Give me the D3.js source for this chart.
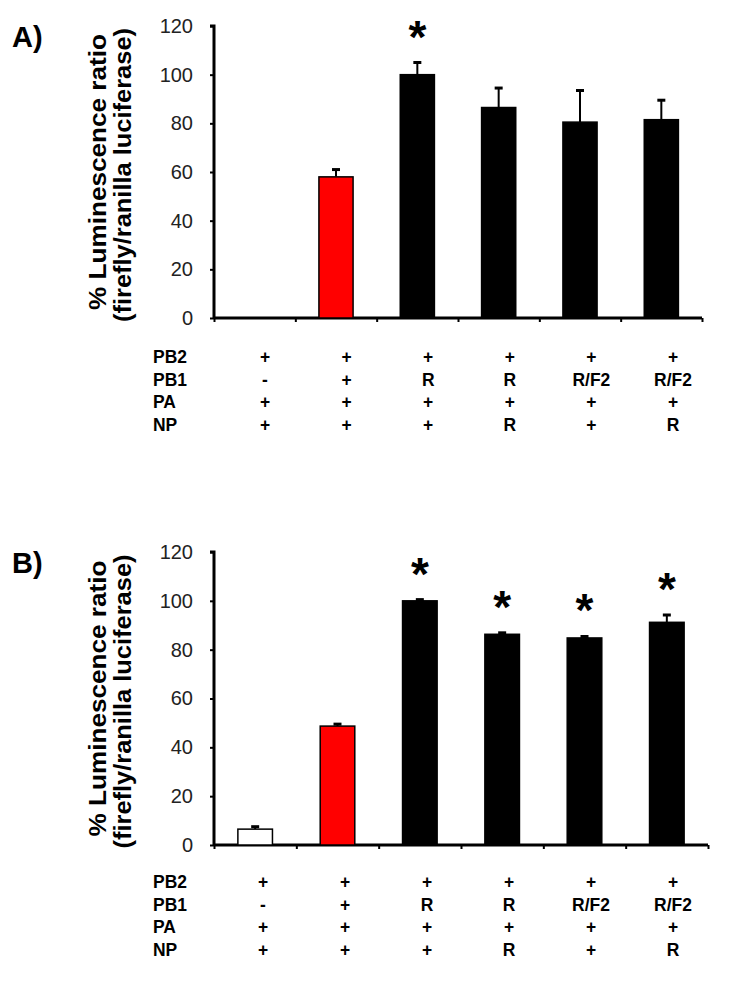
<!DOCTYPE html>
<html>
<head>
<meta charset="utf-8">
<script src="https://cdn.jsdelivr.net/npm/d3@7"></script>
<style>
  html, body { margin: 0; padding: 0; background: #fff; }
  svg { display: block; }
</style>
</head>
<body>
<svg id="chart" width="750" height="1006"></svg>
<script>
// ---- data ----
const categories = ["c1", "c2", "c3", "c4", "c5", "c6"];
const barColors = ["#ffffff", "#ff0000", "#000000", "#000000", "#000000", "#000000"];

const valuesA = [0, 58, 100, 86.5, 80.5, 81.5];
const errorsA = [0, 3, 5, 8, 13, 8];
const starsA = [false, false, true, false, false, false];

const valuesB = [6.5, 48.7, 100, 86.3, 84.8, 91.2];
const errorsB = [1, 0.8, 0.5, 0.6, 0.6, 3];
const starsB = [false, false, true, true, true, true];

const yTicks = [0, 20, 40, 60, 80, 100, 120];
const yLabelLine1 = "% Luminescence ratio";
const yLabelLine2 = "(firefly/ranilla luciferase)";

const rowLabels = ["PB2", "PB1", "PA", "NP"];
const rowPB2 = ["+", "+", "+", "+", "+", "+"];
const rowPB1 = ["-", "+", "R", "R", "R/F2", "R/F2"];
const rowPA = ["+", "+", "+", "+", "+", "+"];
const rowNP = ["+", "+", "+", "R", "+", "R"];
const tableRows = [rowPB2, rowPB1, rowPA, rowNP];

const svg = d3.select("#chart");

function drawPanel(opts) {
  const g = svg.append("g");
  const x = d3.scaleBand().domain(categories).range([opts.x0, opts.x1]).paddingInner(0.58).paddingOuter(0.29);
  const y = d3.scaleLinear().domain([0, 120]).range([opts.yBottom, opts.yTop]);

  // panel letter
  g.append("text").attr("x", 12).attr("y", opts.yTop + 21)
    .attr("font-family", "Liberation Sans, Arial, sans-serif")
    .attr("font-weight", "bold").attr("font-size", 29).text(opts.letter);

  // y axis
  const yAxis = d3.axisLeft(y).tickValues(yTicks).tickSize(4).tickPadding(17).tickFormat(d3.format("d"));
  const ya = g.append("g").attr("transform", `translate(${opts.x0},0)`).call(yAxis);
  ya.select(".domain").attr("stroke-width", 3).attr("d", `M-4,${opts.yTop}H0V${opts.yBottom}`);
  ya.selectAll(".tick line").attr("stroke-width", 2);
  ya.selectAll(".tick text").attr("font-family", "Liberation Sans, Arial, sans-serif")
    .attr("font-size", 20).attr("fill", "#222");

  // x axis (ticks at band boundaries)
  const xLin = d3.scaleLinear().domain([0, categories.length]).range([opts.x0, opts.x1]);
  const xAxis = d3.axisBottom(xLin).tickValues(d3.range(0, categories.length + 1)).tickSize(4).tickFormat("");
  const xa = g.append("g").attr("transform", `translate(0,${opts.yBottom})`).call(xAxis);
  xa.select(".domain").attr("stroke-width", 3).attr("d", `M${opts.x0},0H${opts.x1}`);
  xa.selectAll(".tick line").attr("stroke-width", 2);

  // y label
  const cy = (opts.yTop + opts.yBottom) / 2;
  g.append("text").attr("transform", `translate(106,${cy}) rotate(-90)`)
    .attr("text-anchor", "middle").attr("font-family", "Liberation Sans, Arial, sans-serif")
    .attr("font-weight", "bold").attr("font-size", 24)
    .attr("textLength", 276).attr("lengthAdjust", "spacingAndGlyphs")
    .text(yLabelLine1);
  g.append("text").attr("transform", `translate(131,${cy + 3}) rotate(-90)`)
    .attr("text-anchor", "middle").attr("font-family", "Liberation Sans, Arial, sans-serif")
    .attr("font-weight", "bold").attr("font-size", 24)
    .attr("textLength", 294).attr("lengthAdjust", "spacingAndGlyphs")
    .text(yLabelLine2);

  const data = categories.map((c, i) => ({ c, v: opts.values[i], e: opts.errors[i], s: opts.stars[i], col: barColors[i] }));

  // error bars (upper)
  const eb = g.append("g");
  data.filter(d => d.e > 0).forEach(d => {
    const cx = x(d.c) + x.bandwidth() / 2;
    eb.append("line").attr("x1", cx).attr("x2", cx).attr("y1", y(d.v)).attr("y2", y(d.v + d.e))
      .attr("stroke", "#000").attr("stroke-width", 2);
    eb.append("line").attr("x1", cx - 4).attr("x2", cx + 4).attr("y1", y(d.v + d.e)).attr("y2", y(d.v + d.e))
      .attr("stroke", "#000").attr("stroke-width", 3);
  });

  // bars
  g.append("g").selectAll("rect").data(data.filter(d => d.v > 0)).join("rect")
    .attr("x", d => x(d.c)).attr("width", x.bandwidth())
    .attr("y", d => y(d.v)).attr("height", d => y(0) - y(d.v))
    .attr("fill", d => d.col).attr("stroke", "#000").attr("stroke-width", 1.5);

  // stars
  g.append("g").selectAll("text").data(data.filter(d => d.s)).join("text")
    .attr("x", d => x(d.c) + x.bandwidth() / 2)
    .attr("y", d => y(d.v + d.e) - 10)
    .attr("text-anchor", "middle").attr("font-family", "Liberation Sans, Arial, sans-serif")
    .attr("font-weight", "bold").attr("font-size", 46).text("*");

  // table
  const colX = d3.scalePoint().domain(categories).range([opts.tx0, opts.tx1]);
  const tg = g.append("g").attr("font-family", "Liberation Sans, Arial, sans-serif")
    .attr("font-weight", "bold").attr("font-size", 19);
  rowLabels.forEach((lab, r) => {
    const yy = opts.tableY0 + r * opts.rowH;
    tg.append("text").attr("transform", `translate(153,${yy}) scale(0.92,1)`).text(lab);
    tableRows[r].forEach((val, i) => {
      tg.append("text").attr("transform", `translate(${colX(categories[i])},${yy}) scale(0.92,1)`)
        .attr("text-anchor", "middle").text(val);
    });
  });
}

drawPanel({ letter: "A)", x0: 214, x1: 702, yTop: 26, yBottom: 318,
  values: valuesA, errors: errorsA, stars: starsA,
  tx0: 265, tx1: 673, tableY0: 363, rowH: 22.5 });
drawPanel({ letter: "B)", x0: 214, x1: 708, yTop: 552, yBottom: 845,
  values: valuesB, errors: errorsB, stars: starsB,
  tx0: 263, tx1: 673, tableY0: 888, rowH: 22.5 });
</script>
</body>
</html>
